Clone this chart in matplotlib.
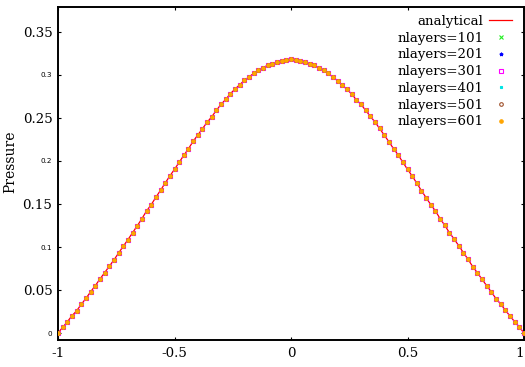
import numpy as np
import matplotlib
matplotlib.use("Agg")
import matplotlib.pyplot as plt

# Pressure profile across the gap, sampled on a uniform grid of 101 nodes
x = np.linspace(-1.0, 1.0, 101)
pressure = np.array([
    0.0000, 0.0066, 0.0131, 0.0201, 0.0259, 0.0334, 0.0403, 0.0480, 0.0550, 0.0628,
    0.0701, 0.0776, 0.0849, 0.0930, 0.1008, 0.1085, 0.1166, 0.1246, 0.1329, 0.1419,
    0.1492, 0.1578, 0.1659, 0.1744, 0.1826, 0.1903, 0.1985, 0.2066, 0.2143, 0.2229,
    0.2302, 0.2376, 0.2450, 0.2515, 0.2590, 0.2659, 0.2717, 0.2783, 0.2837, 0.2887,
    0.2938, 0.2977, 0.3020, 0.3058, 0.3085, 0.3113, 0.3131, 0.3148, 0.3166, 0.3171,
    0.3180,
    0.3171, 0.3166, 0.3148, 0.3131, 0.3113, 0.3085, 0.3055, 0.3020, 0.2973, 0.2934,
    0.2880, 0.2834, 0.2779, 0.2713, 0.2659, 0.2590, 0.2520, 0.2455, 0.2378, 0.2302,
    0.2224, 0.2143, 0.2070, 0.1985, 0.1903, 0.1826, 0.1741, 0.1655, 0.1573, 0.1492,
    0.1419, 0.1329, 0.1252, 0.1166, 0.1093, 0.1015, 0.0934, 0.0857, 0.0771, 0.0701,
    0.0624, 0.0550, 0.0477, 0.0399, 0.0337, 0.0264, 0.0198, 0.0131, 0.0070, 0.0000,
])

# Numerical solutions for each layer count (coincide with the analytical curve)
nlayers = [101, 201, 301, 401, 501, 601]
numerical = {n: pressure for n in nlayers}
series_colors = ["#22ee22", "#0000ff", "#ff00ff", "#00e5e5", "#a0522d", "#ffa500"]
series_markers = ["x", "*", "s", "s", "o", "o"]
series_filled = [True, True, False, True, False, True]
series_sizes = [2.4, 2.6, 3.1, 1.9, 2.6, 2.5]

xticks = [-1, -0.5, 0, 0.5, 1]
xtick_labels = ["-1", "-0.5", "0", "0.5", "1"]
yticks = [0, 0.05, 0.1, 0.15, 0.2, 0.25, 0.3, 0.35]
ytick_labels = ["0", "0.05", "0.1", "0.15", "0.2", "0.25", "0.3", "0.35"]

W, H = 525, 367
fig = plt.figure(figsize=(W / 100, H / 100), dpi=100)
ax = fig.add_axes([58 / W, 27 / H, 466 / W, 333 / H])

ax.plot(x, pressure, color="#ff0000", lw=0.9, label="analytical", zorder=2)
for n, c, m, filled, s in zip(nlayers, series_colors, series_markers,
                              series_filled, series_sizes):
    ax.plot(x, numerical[n], linestyle="none", marker=m, ms=s,
            mfc=c if filled else "none", mec=c, mew=0.8,
            label=f"nlayers={n}", zorder=3)

ax.set_xlim(-1, 1)
ax.set_ylim(-0.0081, 0.379)

serif = "DejaVu Serif"
ax.set_xticks(xticks)
ax.set_xticklabels(xtick_labels, family=serif, fontsize=9.6)
ax.get_xticklabels()[-1].set_horizontalalignment("right")
ax.set_yticks(yticks)
ax.set_yticklabels(ytick_labels)
for i, lab in enumerate(ax.get_yticklabels()):
    if i % 2 == 1:
        lab.set_fontfamily(serif)
        lab.set_fontsize(9.6)
    else:
        lab.set_fontfamily("DejaVu Sans")
        lab.set_fontsize(5.2)

ax.tick_params(axis="both", which="major", direction="in", length=2.5, width=0.8,
               top=True, right=True, colors="black")
ax.tick_params(axis="x", pad=5)
ax.tick_params(axis="y", pad=4)
for sp in ax.spines.values():
    sp.set_linewidth(1.4)

ax.set_ylabel("Pressure", family=serif, fontsize=10)
ax.yaxis.set_label_coords(-0.088, 0.535)

leg = ax.legend(loc="upper right", bbox_to_anchor=(512 / W, 1 - 15 / H),
                bbox_transform=fig.transFigure, frameon=False, markerfirst=False,
                numpoints=1, handlelength=1.7, handletextpad=0.45,
                labelspacing=0.28, borderpad=0, borderaxespad=0,
                prop={"family": serif, "size": 9.6})

fig.savefig("out.png", dpi=100)
